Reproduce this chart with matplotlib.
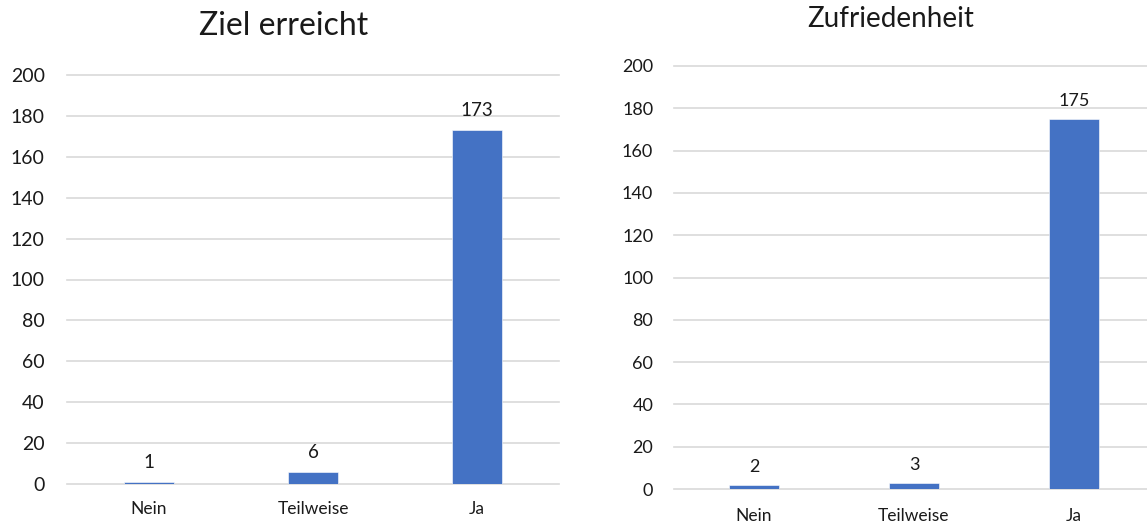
import matplotlib
matplotlib.use('Agg')
import matplotlib.pyplot as plt

plt.rcParams['font.family'] = ['Lato', 'DejaVu Sans']

categories = ['Nein', 'Teilweise', 'Ja']
ziel_values = [1, 6, 173]
zufriedenheit_values = [2, 3, 175]
y_ticks = list(range(0, 201, 20))

BAR_COLOR = '#4472C4'
GRID_COLOR = '#D9D9D9'
TEXT_COLOR = '#1a1a1a'

fig = plt.figure(figsize=(11.47, 5.24), dpi=100)


def draw_chart(ax, values, ysize, xsize, label_size, label_offset, ypad, xpad):
    x = range(len(categories))
    ax.bar(x, values, width=0.31, color=BAR_COLOR, edgecolor='white', linewidth=0.4, zorder=3)
    ax.set_xlim(-0.5, len(categories) - 0.5)
    ax.set_ylim(0, 200)
    ax.set_yticks(y_ticks)
    ax.set_xticks(list(x))
    ax.set_xticklabels(categories)
    ax.yaxis.grid(True, color=GRID_COLOR, linewidth=1.2, zorder=0)
    ax.set_axisbelow(True)
    for s in ax.spines.values():
        s.set_visible(False)
    ax.tick_params(axis='y', length=0, labelsize=ysize, colors=TEXT_COLOR, pad=ypad)
    ax.tick_params(axis='x', length=0, labelsize=xsize, colors=TEXT_COLOR, pad=xpad)
    for i, v in enumerate(values):
        ax.annotate(str(v), (i, v), xytext=(0, label_offset), textcoords='offset points',
                    ha='center', va='bottom', fontsize=label_size, color=TEXT_COLOR)
    for gl in ax.get_ygridlines():
        gl.set_clip_on(False)


# left chart
ax1 = fig.add_axes([67 / 1147, 40 / 524, 492 / 1147, 409 / 524])
draw_chart(ax1, ziel_values, 14, 12.5, 13.5, 8, 16, 12)
fig.text(284 / 1147, 1 - 26 / 524, 'Ziel erreicht', ha='center', va='center',
         fontsize=23, color=TEXT_COLOR)

# right chart (cut at the right edge like the source)
ax2 = fig.add_axes([674 / 1147, 35 / 524, 480 / 1147, 423 / 524])
draw_chart(ax2, zufriedenheit_values, 13, 12.5, 13, 7, 15, 14)
fig.text(891 / 1147, 1 - 19 / 524, 'Zufriedenheit', ha='center', va='center',
         fontsize=20, color=TEXT_COLOR)

fig.savefig('out.png', dpi=100)
